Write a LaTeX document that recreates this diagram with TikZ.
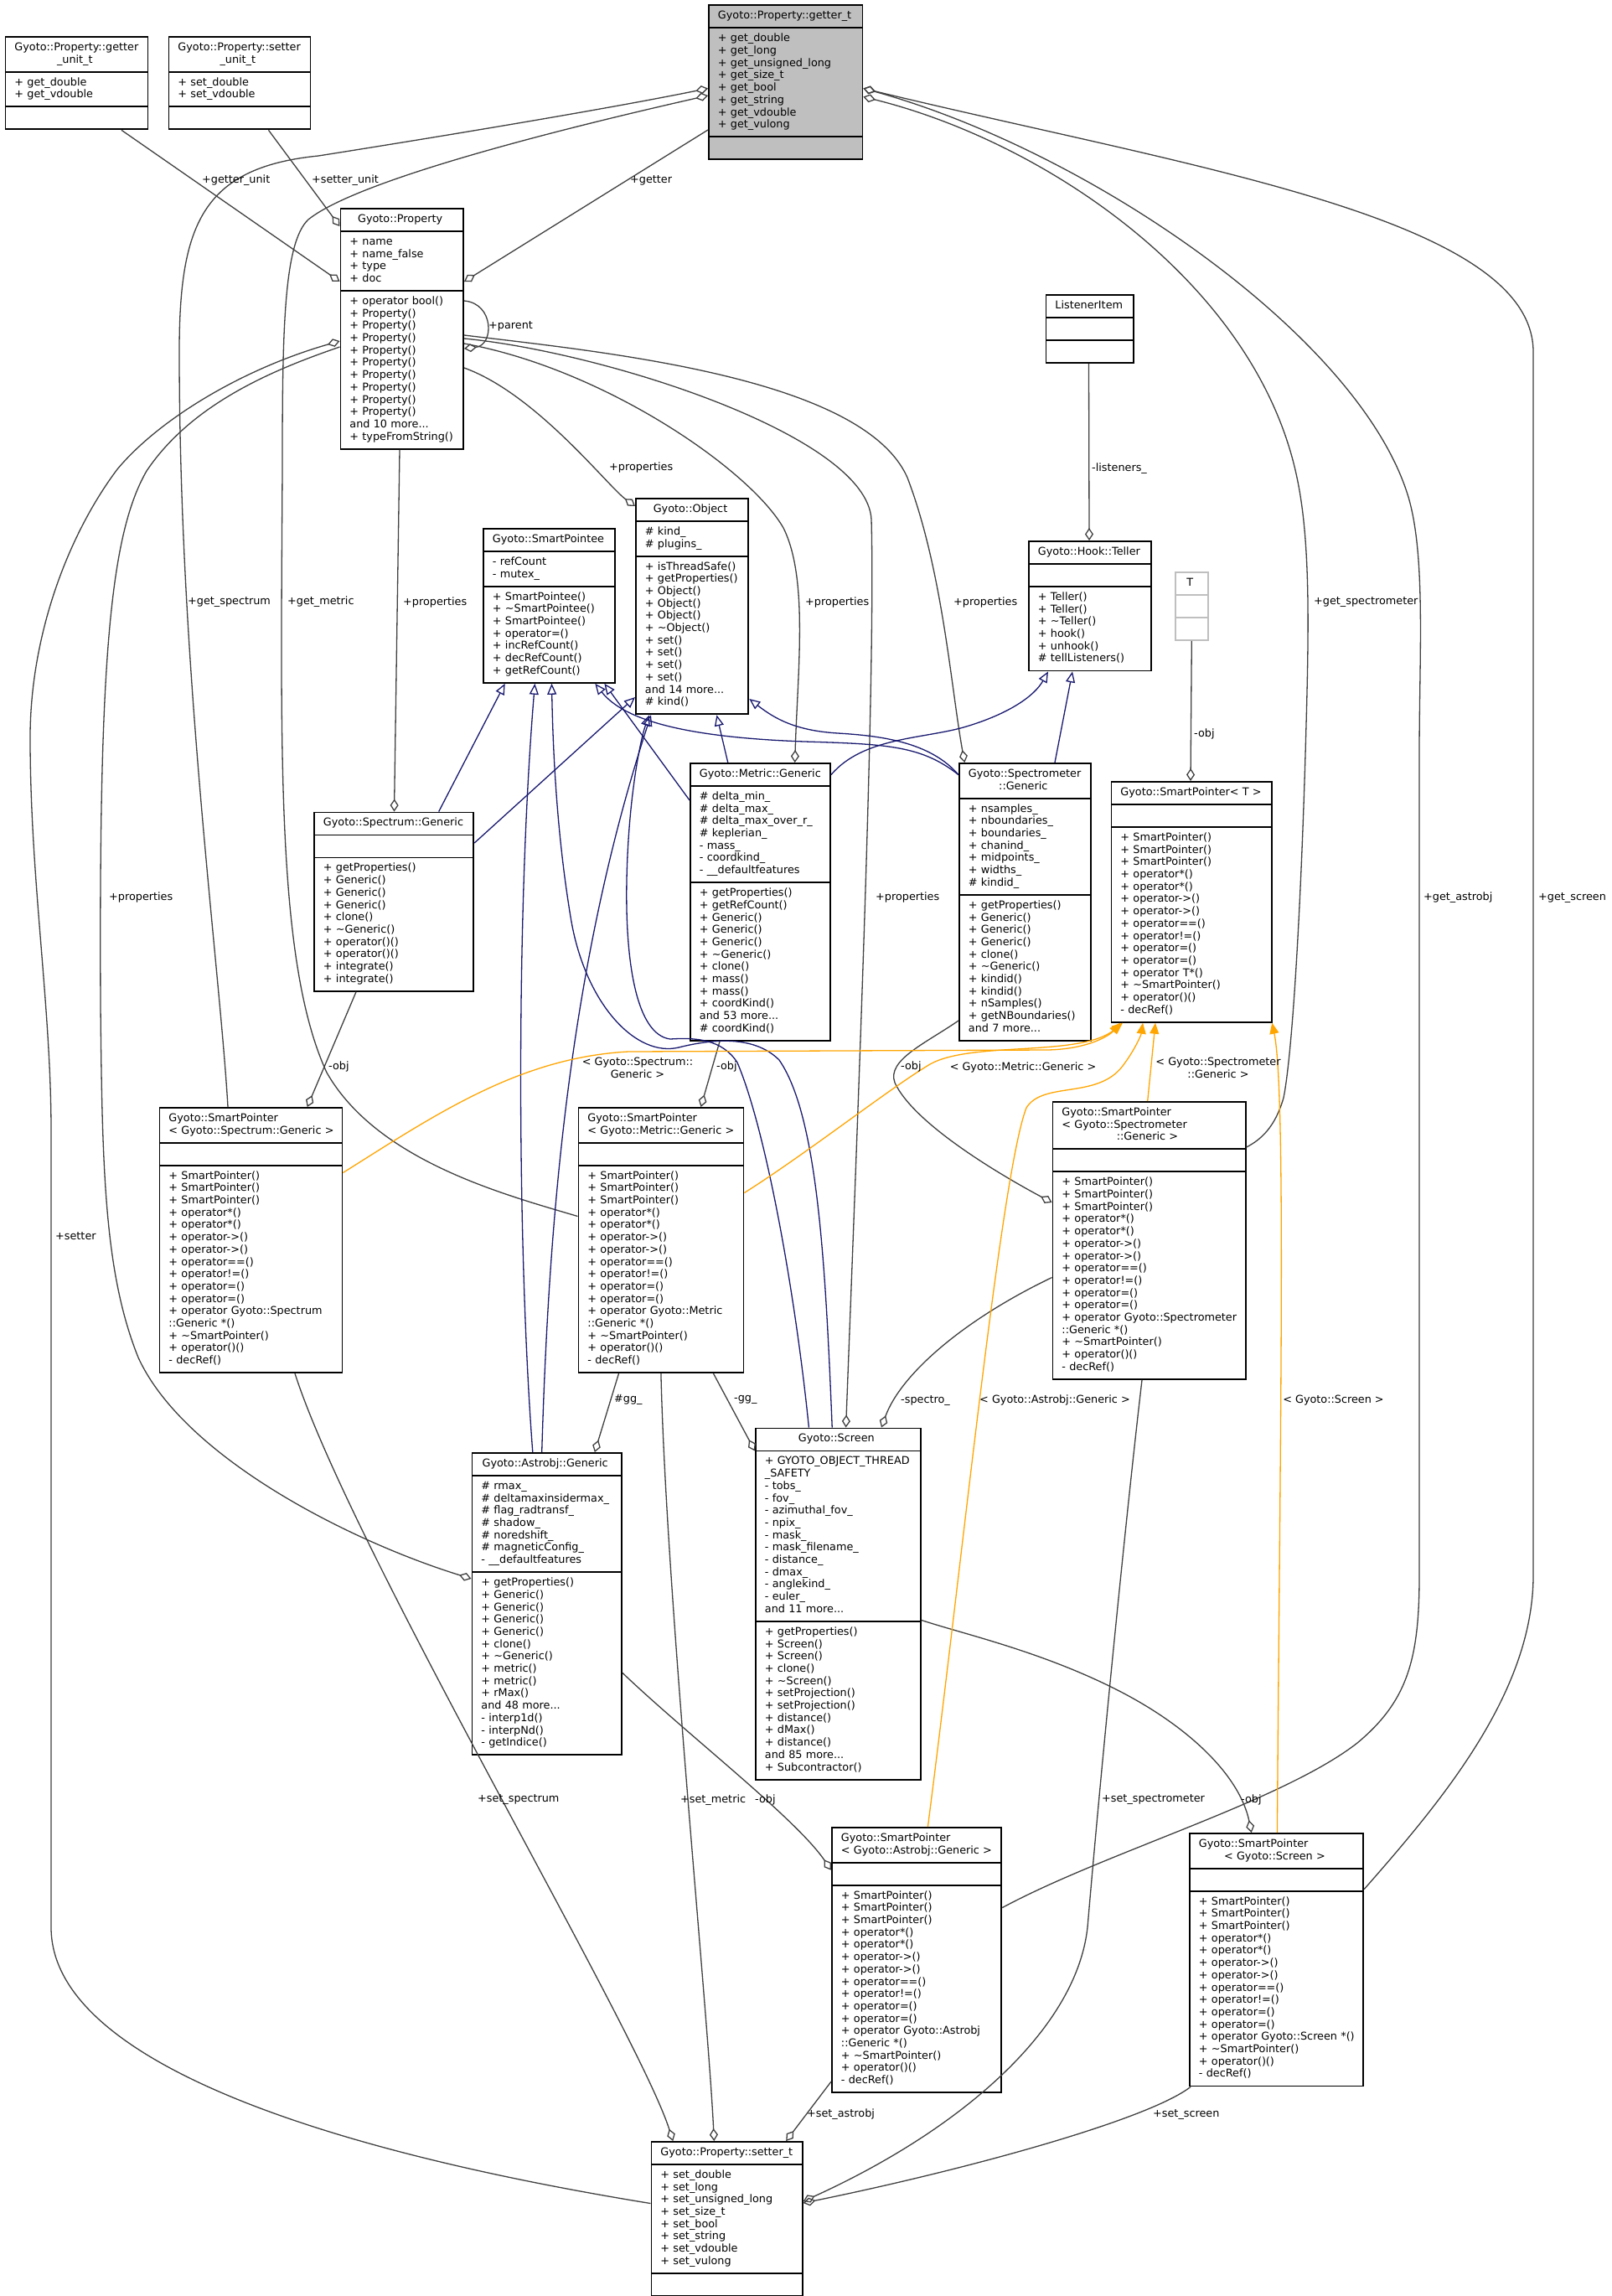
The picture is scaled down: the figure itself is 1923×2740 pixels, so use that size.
\documentclass[tikz,border=0pt]{standalone}
\usepackage{fontspec}
\setmainfont{DejaVu Sans}
\usetikzlibrary{shapes.multipart,arrows.meta}

\definecolor{edgegray}{HTML}{404040}
\definecolor{inhblue}{HTML}{191970}
\definecolor{tmplorange}{HTML}{FFA500}
\definecolor{boxgray}{HTML}{BFBFBF}

\newcommand\classfont{\fontsize{12.8pt}{14.7pt}\selectfont}
\newcommand\boxtitle[1]{\hspace*{\fill}#1\hspace*{\fill}}
\hyphenpenalty=10000
\exhyphenpenalty=10000

\begin{document}
\begin{tikzpicture}[
  x=1pt, y=-1pt,
  cls/.style={rectangle split, rectangle split parts=3, draw=black, line width=1.9pt, fill=white,
    anchor=north west, inner xsep=11pt, inner ysep=5.2pt, font=\classfont,
    execute at begin node=\strut, execute at end node=\strut},
  lbl/.style={font=\classfont, inner sep=0pt, anchor=west},
  tlbl/.style={font=\classfont, inner sep=0pt, align=center},
  member/.style={draw=edgegray, line width=1.3pt, arrows={Diamond[open,length=15pt,width=10pt]-}},
  inherit/.style={draw=inhblue, line width=1.3pt, arrows={-Triangle[open,length=13pt,width=11pt]}},
  tmpl/.style={draw=tmplorange, line width=1.3pt, arrows={-Triangle[length=13pt,width=11pt]}}
]
  \fill[white] (0,0) rectangle (1923,2740);
  \useasboundingbox (0,0) rectangle (1923,2740);

  \node[cls, fill=boxgray, text width=161.5pt] (getter) at (845,5.5)
    {\boxtitle{Gyoto::Property::getter\_t}
     \nodepart{two}+~get\_double\\+~get\_long\\+~get\_unsigned\_long\\+~get\_size\_t\\+~get\_bool\\+~get\_string\\+~get\_vdouble\\+~get\_vulong
     \nodepart{three}};
  \node[cls, text width=148pt] (gut) at (5.5,43)
    {Gyoto::Property::getter\\\boxtitle{\_unit\_t}
     \nodepart{two}+~get\_double\\+~get\_vdouble
     \nodepart{three}};
  \node[cls, text width=147pt] (sut) at (200.5,43)
    {Gyoto::Property::setter\\\boxtitle{\_unit\_t}
     \nodepart{two}+~set\_double\\+~set\_vdouble
     \nodepart{three}};
  \node[cls, text width=124.6pt] (prop) at (405.5,248)
    {\boxtitle{Gyoto::Property}
     \nodepart{two}+~name\\+~name\_false\\+~type\\+~doc
     \nodepart{three}+~operator~bool()\\+~Property()\\+~Property()\\+~Property()\\+~Property()\\+~Property()\\+~Property()\\+~Property()\\+~Property()\\+~Property()\\and~10~more...\\+~typeFromString()};
  \node[cls, text width=82.6pt] (listener) at (1247.5,351)
    {\boxtitle{ListenerItem}
     \nodepart{two}
     \nodepart{three}};
  \node[cls, text width=135pt] (pointee) at (576,630)
    {\boxtitle{Gyoto::SmartPointee}
     \nodepart{two}-~refCount\\-~mutex\_
     \nodepart{three}+~SmartPointee()\\+~\textasciitilde SmartPointee()\\+~SmartPointee()\\+~operator=()\\+~incRefCount()\\+~decRefCount()\\+~getRefCount()};
  \node[cls, text width=112.4pt] (object) at (758,594)
    {\boxtitle{Gyoto::Object}
     \nodepart{two}\#~kind\_\\\#~plugins\_
     \nodepart{three}+~isThreadSafe()\\+~getProperties()\\+~Object()\\+~Object()\\+~Object()\\+~\textasciitilde Object()\\+~set()\\+~set()\\+~set()\\+~set()\\and~14~more...\\\#~kind()};
  \node[cls, text width=124pt] (teller) at (1227,645)
    {\boxtitle{Gyoto::Hook::Teller}
     \nodepart{two}
     \nodepart{three}+~Teller()\\+~Teller()\\+~\textasciitilde Teller()\\+~hook()\\+~unhook()\\\#~tellListeners()};
  \node[cls, draw=boxgray, text width=16.7pt] (tparam) at (1402,682)
    {\boxtitle{T}
     \nodepart{two}
     \nodepart{three}};
  \node[cls, text width=145pt] (metric) at (823,910)
    {\boxtitle{Gyoto::Metric::Generic}
     \nodepart{two}\#~delta\_min\_\\\#~delta\_max\_\\\#~delta\_max\_over\_r\_\\\#~keplerian\_\\-~mass\_\\-~coordkind\_\\-~\_\_defaultfeatures
     \nodepart{three}+~getProperties()\\+~getRefCount()\\+~Generic()\\+~Generic()\\+~Generic()\\+~\textasciitilde Generic()\\+~clone()\\+~mass()\\+~mass()\\+~coordKind()\\and~53~more...\\\#~coordKind()};
  \node[cls, text width=135pt] (spectro) at (1144,910)
    {Gyoto::Spectrometer\\\boxtitle{::Generic}
     \nodepart{two}+~nsamples\_\\+~nboundaries\_\\+~boundaries\_\\+~chanind\_\\+~midpoints\_\\+~widths\_\\\#~kindid\_
     \nodepart{three}+~getProperties()\\+~Generic()\\+~Generic()\\+~Generic()\\+~clone()\\+~\textasciitilde Generic()\\+~kindid()\\+~kindid()\\+~nSamples()\\+~getNBoundaries()\\and~7~more...};
  \node[cls, text width=168.3pt] (spectrum) at (374,968.5)
    {\boxtitle{Gyoto::Spectrum::Generic}
     \nodepart{two}
     \nodepart{three}+~getProperties()\\+~Generic()\\+~Generic()\\+~Generic()\\+~clone()\\+~\textasciitilde Generic()\\+~operator()()\\+~operator()()\\+~integrate()\\+~integrate()};
  \node[cls, text width=169.8pt] (sptr) at (1325.5,932)
    {\boxtitle{Gyoto::SmartPointer<~T~>}
     \nodepart{two}
     \nodepart{three}+~SmartPointer()\\+~SmartPointer()\\+~SmartPointer()\\+~operator*()\\+~operator*()\\+~operator->()\\+~operator->()\\+~operator==()\\+~operator!=()\\+~operator=()\\+~operator=()\\+~operator~T*()\\+~\textasciitilde SmartPointer()\\+~operator()()\\-~decRef()};
  \node[cls, text width=196pt] (spspectrum) at (189.5,1321)
    {Gyoto::SmartPointer\\\boxtitle{<~Gyoto::Spectrum::Generic~>}
     \nodepart{two}
     \nodepart{three}+~SmartPointer()\\+~SmartPointer()\\+~SmartPointer()\\+~operator*()\\+~operator*()\\+~operator->()\\+~operator->()\\+~operator==()\\+~operator!=()\\+~operator=()\\+~operator=()\\+~operator~Gyoto::Spectrum\\::Generic~*()\\+~\textasciitilde SmartPointer()\\+~operator()()\\-~decRef()};
  \node[cls, text width=175pt] (spmetric) at (689.5,1321)
    {Gyoto::SmartPointer\\\boxtitle{<~Gyoto::Metric::Generic~>}
     \nodepart{two}
     \nodepart{three}+~SmartPointer()\\+~SmartPointer()\\+~SmartPointer()\\+~operator*()\\+~operator*()\\+~operator->()\\+~operator->()\\+~operator==()\\+~operator!=()\\+~operator=()\\+~operator=()\\+~operator~Gyoto::Metric\\::Generic~*()\\+~\textasciitilde SmartPointer()\\+~operator()()\\-~decRef()};
  \node[cls, text width=208.3pt] (spspectro) at (1255.5,1314)
    {Gyoto::SmartPointer\\<~Gyoto::Spectrometer\\\boxtitle{::Generic~>}
     \nodepart{two}
     \nodepart{three}+~SmartPointer()\\+~SmartPointer()\\+~SmartPointer()\\+~operator*()\\+~operator*()\\+~operator->()\\+~operator->()\\+~operator==()\\+~operator!=()\\+~operator=()\\+~operator=()\\+~operator~Gyoto::Spectrometer\\::Generic~*()\\+~\textasciitilde SmartPointer()\\+~operator()()\\-~decRef()};
  \node[cls, text width=156.6pt] (astrobj) at (562.5,1733)
    {\boxtitle{Gyoto::Astrobj::Generic}
     \nodepart{two}\#~rmax\_\\\#~deltamaxinsidermax\_\\\#~flag\_radtransf\_\\\#~shadow\_\\\#~noredshift\_\\\#~magneticConfig\_\\-~\_\_defaultfeatures
     \nodepart{three}+~getProperties()\\+~Generic()\\+~Generic()\\+~Generic()\\+~Generic()\\+~clone()\\+~\textasciitilde Generic()\\+~metric()\\+~metric()\\+~rMax()\\and~48~more...\\-~interp1d()\\-~interpNd()\\-~getIndice()};
  \node[cls, text width=175pt] (screen) at (901,1703.5)
    {\boxtitle{Gyoto::Screen}
     \nodepart{two}+~GYOTO\_OBJECT\_THREAD\\\_SAFETY\\-~tobs\_\\-~fov\_\\-~azimuthal\_fov\_\\-~npix\_\\-~mask\_\\-~mask\_filename\_\\-~distance\_\\-~dmax\_\\-~anglekind\_\\-~euler\_\\and~11~more...
     \nodepart{three}+~getProperties()\\+~Screen()\\+~Screen()\\+~clone()\\+~\textasciitilde Screen()\\+~setProjection()\\+~setProjection()\\+~distance()\\+~dMax()\\+~distance()\\and~85~more...\\+~Subcontractor()};
  \node[cls, text width=180.3pt] (spastrobj) at (992,2180)
    {Gyoto::SmartPointer\\\boxtitle{<~Gyoto::Astrobj::Generic~>}
     \nodepart{two}
     \nodepart{three}+~SmartPointer()\\+~SmartPointer()\\+~SmartPointer()\\+~operator*()\\+~operator*()\\+~operator->()\\+~operator->()\\+~operator==()\\+~operator!=()\\+~operator=()\\+~operator=()\\+~operator~Gyoto::Astrobj\\::Generic~*()\\+~\textasciitilde SmartPointer()\\+~operator()()\\-~decRef()};
  \node[cls, text width=185.2pt] (spscreen) at (1419,2187)
    {Gyoto::SmartPointer\\\boxtitle{<~Gyoto::Screen~>}
     \nodepart{two}
     \nodepart{three}+~SmartPointer()\\+~SmartPointer()\\+~SmartPointer()\\+~operator*()\\+~operator*()\\+~operator->()\\+~operator->()\\+~operator==()\\+~operator!=()\\+~operator=()\\+~operator=()\\+~operator~Gyoto::Screen~*()\\+~\textasciitilde SmartPointer()\\+~operator()()\\-~decRef()};
  \node[cls, text width=158.3pt] (setter) at (776.5,2555)
    {\boxtitle{Gyoto::Property::setter\_t}
     \nodepart{two}+~set\_double\\+~set\_long\\+~set\_unsigned\_long\\+~set\_size\_t\\+~set\_bool\\+~set\_string\\+~set\_vdouble\\+~set\_vulong
     \nodepart{three}};

  \draw[member] ([yshift=-88pt]prop.north west) -- ([xshift=139.5pt]gut.south west);
  \draw[member] ([yshift=-22pt]prop.north west) -- ([xshift=120pt]sut.south west);
  \draw[member] ([yshift=-88pt]prop.north east) -- ([yshift=-149.5pt]getter.north west);
  \draw[member] ([yshift=-168pt]prop.north east) .. controls (590,412) and (590,362) .. ([yshift=-111pt]prop.north east);
  \draw[member] ([yshift=-10pt]object.north west) .. controls (725,580) and (640,470) .. ([yshift=-191pt]prop.north east);
  \draw[member] ([xshift=125.7pt]metric.north west) .. controls (952,800) and (965,690) .. (935,630) .. controls (895,560) and (720,440) .. ([yshift=-162pt]prop.north east);
  \draw[member] ([xshift=7.3pt]spectro.north west) .. controls (1135,820) and (1125,680) .. (1083,570) .. controls (1030,450) and (720,420) .. ([yshift=-152pt]prop.north east);
  \draw[member] ([xshift=108.6pt]screen.north west) .. controls (1025,1300) and (1045,800) .. (1040,620) .. controls (1035,520) and (720,420) .. ([yshift=-156pt]prop.north east);
  \draw[member] ([xshift=96.5pt]spectrum.north west) -- ([xshift=71.5pt]prop.south west);
  \draw[member] ([yshift=-151pt]astrobj.north west) .. controls (420,1840) and (220,1740) .. (165,1620) .. controls (125,1520) and (122,1400) .. (120,1200) .. controls (118,800) and (130,640) .. (175,562) .. controls (230,480) and (330,440) .. ([yshift=-166pt]prop.north west);
  \draw[member] ([yshift=-159pt]prop.north west) .. controls (290,440) and (190,500) .. (140,560) .. controls (80,640) and (36,760) .. (36,880) .. controls (36,1050) and (61,1200) .. (61,1350) -- (61,2300) .. controls (61,2450) and (350,2560) .. ([yshift=-74.5pt]setter.north west);
  \draw[member] ([yshift=-100pt]getter.north west) .. controls (700,135) and (450,175) .. (380,186) .. controls (240,200) and (214,270) .. (214,420) .. controls (214,800) and (262,1150) .. ([xshift=82.5pt]spspectrum.north west);
  \draw[member] ([yshift=-108.5pt]getter.north west) .. controls (620,165) and (420,220) .. (368,262) .. controls (338,290) and (337,400) .. (337,560) .. controls (335,900) and (330,1150) .. (390,1280) .. controls (450,1385) and (600,1425) .. ([yshift=-130.5pt]spmetric.north west);
  \draw[member] ([yshift=-110pt]getter.north east) .. controls (1250,170) and (1500,340) .. (1548,570) .. controls (1565,650) and (1562,760) .. (1558,900) .. controls (1552,1100) and (1542,1260) .. (1532,1310) .. controls (1522,1345) and (1505,1360) .. ([yshift=-55pt]spspectro.north east);
  \draw[member] ([yshift=-100pt]getter.north east) .. controls (1300,180) and (1620,400) .. (1680,590) .. controls (1702,660) and (1694,780) .. (1694,900) -- (1694,1880) .. controls (1694,1980) and (1680,2030) .. (1620,2080) .. controls (1530,2150) and (1320,2210) .. ([yshift=-96.6pt]spastrobj.north east);
  \draw[member] ([yshift=-100pt]getter.north east) .. controls (1420,200) and (1830,260) .. (1830,420) -- (1830,1880) .. controls (1830,2020) and (1720,2150) .. ([yshift=-67.6pt]spscreen.north east);
  \draw[member] ([xshift=73pt]teller.north west) -- ([xshift=52pt]listener.south west);
  \draw[member] ([xshift=95.5pt]sptr.north west) -- (tparam.south);
  \draw[member] ([xshift=177.2pt]spspectrum.north west) -- ([xshift=51pt]spectrum.south west);
  \draw[member] ([xshift=147pt]spmetric.north west) -- ([xshift=36pt]metric.south west);
  \draw[member] ([yshift=-121pt]spspectro.north west) .. controls (1190,1400) and (1090,1340) .. (1068,1292) .. controls (1058,1265) and (1105,1245) .. ([yshift=-308pt]spectro.north west);
  \draw[member] ([xshift=147.3pt]astrobj.north west) -- ([xshift=49pt]spmetric.south west);
  \draw[member] ([yshift=-28pt]screen.north west) -- ([xshift=162pt]spmetric.south west);
  \draw[member] ([xshift=151pt]screen.north west) .. controls (1075,1640) and (1150,1575) .. ([yshift=-210.5pt]spspectro.north west);
  \draw[member] ([xshift=74.7pt]spscreen.north west) .. controls (1480,2120) and (1420,2060) .. (1330,2015) .. controls (1240,1970) and (1150,1950) .. ([yshift=-230pt]screen.north east);
  \draw[member] ([yshift=-51.7pt]spastrobj.north west) .. controls (950,2170) and (820,2070) .. ([yshift=-263.4pt]astrobj.north east);
  \draw[member] ([xshift=26.8pt]setter.north west) .. controls (760,2420) and (420,1850) .. ([xshift=162.5pt]spspectrum.south west);
  \draw[member] ([xshift=75.8pt]setter.north west) .. controls (845,2400) and (795,1900) .. ([xshift=99.4pt]spmetric.south west);
  \draw[member] ([xshift=161.7pt]setter.north west) -- ([yshift=14pt]spastrobj.south west);
  \draw[member] ([yshift=-72pt]setter.north east) .. controls (1150,2540) and (1285,2420) .. (1298,2300) .. controls (1315,2100) and (1345,1800) .. ([xshift=107.5pt]spspectro.south west);
  \draw[member] ([yshift=-74pt]setter.north east) .. controls (1150,2590) and (1370,2530) .. ([xshift=2pt]spscreen.south west);

  \draw[inherit] ([xshift=149.7pt]spectrum.north west) -- ([xshift=26.7pt]pointee.south west);
  \draw[inherit] ([yshift=-37.5pt]spectrum.north east) -- ([yshift=-238pt]object.north west);
  \draw[inherit] ([yshift=-45pt]metric.north west) -- ([xshift=145.4pt]pointee.south west);
  \draw[inherit] ([xshift=45.75pt]metric.north west) -- ([xshift=97.4pt]object.south west);
  \draw[inherit] ([yshift=-14.6pt]metric.north east) .. controls (1030,880) and (1100,882) .. (1150,868) .. controls (1205,852) and (1235,830) .. ([xshift=24pt]teller.south west);
  \draw[inherit] ([yshift=-14.6pt]spectro.north west) .. controls (1100,890) and (1060,888) .. (960,885) .. controls (820,880) and (745,860) .. ([xshift=134.3pt]pointee.south west);
  \draw[inherit] ([yshift=-14.6pt]spectro.north west) .. controls (1110,885) and (1050,878) .. (1000,875) .. controls (950,872) and (925,858) .. ([yshift=-240pt]object.north east);
  \draw[inherit] ([xshift=115pt]spectro.north west) -- ([xshift=53pt]teller.south west);
  \draw[inherit] ([xshift=73.3pt]astrobj.north west) .. controls (618,1500) and (615,1100) .. ([xshift=62.4pt]pointee.south west);
  \draw[inherit] ([xshift=84.2pt]astrobj.north west) .. controls (655,1450) and (680,1150) .. ([xshift=19pt]object.south west);
  \draw[inherit] ([xshift=92.2pt]screen.north west) .. controls (985,1500) and (975,1330) .. (930,1265) .. controls (900,1235) and (850,1240) .. (810,1250) .. controls (760,1262) and (700,1200) .. (682,1100) .. controls (665,1000) and (660,900) .. ([xshift=82.5pt]pointee.south west);
  \draw[inherit] ([xshift=64.4pt]screen.north west) .. controls (950,1550) and (915,1350) .. (880,1268) .. controls (862,1240) and (830,1238) .. (800,1240) .. controls (760,1235) and (746,1150) .. (748,1050) .. controls (750,950) and (765,880) .. ([xshift=17pt]object.south west);

  \draw[tmpl] ([yshift=-78.5pt]spspectrum.north east) .. controls (520,1330) and (620,1262) .. (750,1255) -- (1250,1253) .. controls (1300,1252) and (1325,1235) .. ([xshift=11.5pt]sptr.south west);
  \draw[tmpl] ([yshift=-102.5pt]spmetric.north east) .. controls (965,1375) and (1060,1300) .. (1110,1270) .. controls (1160,1242) and (1290,1262) .. ([xshift=14.5pt]sptr.south west);
  \draw[tmpl] ([xshift=115.4pt]spastrobj.north west) .. controls (1150,1850) and (1195,1400) .. (1225,1322) .. controls (1245,1290) and (1310,1312) .. (1340,1272) .. controls (1355,1252) and (1362,1235) .. ([xshift=38.5pt]sptr.south west);
  \draw[tmpl] ([xshift=114.2pt]spspectro.north west) -- ([xshift=53.5pt]sptr.south west);
  \draw[tmpl] ([xshift=105.4pt]spscreen.north west) .. controls (1528,1700) and (1535,1300) .. ([xshift=-1pt]sptr.south east);

  \node[lbl] (l-gunit) at (241,215) {+getter\_unit};
  \node[lbl] (l-sunit) at (372,215) {+setter\_unit};
  \node[lbl] (l-getter) at (752,215) {+getter};
  \node[lbl] (l-parent) at (583,389) {+parent};
  \node[lbl] (l-propobj) at (727,558) {+properties};
  \node[lbl] (l-propspectrum) at (481,718.5) {+properties};
  \node[lbl] (l-propmetric) at (961,718.5) {+properties};
  \node[lbl] (l-propspectro) at (1138,718.5) {+properties};
  \node[lbl] (l-propscreen) at (1045,1071.4) {+properties};
  \node[lbl] (l-propastrobj) at (130,1071.4) {+properties};
  \node[lbl] (l-getspectrum) at (224,718.5) {+get\_spectrum};
  \node[lbl] (l-getmetric) at (343,718.5) {+get\_metric};
  \node[lbl] (l-getspectro) at (1568,718.5) {+get\_spectrometer};
  \node[lbl] (l-getastrobj) at (1699,1071.4) {+get\_astrobj};
  \node[lbl] (l-getscreen) at (1836,1071.4) {+get\_screen};
  \node[lbl] (l-listeners) at (1303,559) {-listeners\_};
  \node[lbl] (l-objt) at (1425,876) {-obj};
  \node[lbl] (l-setter) at (66,1475.5) {+setter};
  \node[lbl] (l-objspectrum) at (392,1272.5) {-obj};
  \node[lbl] (l-objmetric) at (855,1272.5) {-obj};
  \node[lbl] (l-objspectro) at (1075,1272.5) {-obj};
  \node[lbl] (l-gga) at (733,1670.7) {\#gg\_};
  \node[lbl] (l-ggs) at (876,1670.7) {-gg\_};
  \node[lbl] (l-spectro) at (1075,1671) {-spectro\_};
  \node[lbl] (l-objastrobj) at (901,2147.7) {-obj};
  \node[lbl] (l-objscreen) at (1481,2147.7) {-obj};
  \node[lbl] (l-setspectrum) at (570,2147.7) {+set\_spectrum};
  \node[lbl] (l-setmetric) at (812,2147.7) {+set\_metric};
  \node[lbl] (l-setspectro) at (1315,2147.7) {+set\_spectrometer};
  \node[lbl] (l-setastrobj) at (963,2523) {+set\_astrobj};
  \node[lbl] (l-setscreen) at (1376,2523) {+set\_screen};
  \node[tlbl] (t-spectrum) at (761,1274) {< Gyoto::Spectrum::\\Generic >};
  \node[tlbl] (t-metric) at (1221,1274) {< Gyoto::Metric::Generic >};
  \node[tlbl] (t-astrobj) at (1259,1671) {< Gyoto::Astrobj::Generic >};
  \node[tlbl] (t-spectro) at (1454,1274) {< Gyoto::Spectrometer\\::Generic >};
  \node[tlbl] (t-screen) at (1591.5,1671) {< Gyoto::Screen >};
\end{tikzpicture}
\end{document}
